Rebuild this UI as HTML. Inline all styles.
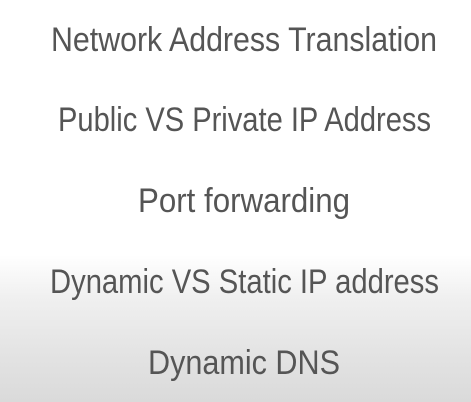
<!DOCTYPE html>
<html><head><meta charset="utf-8"><style>
html,body{margin:0;padding:0;}
body{width:471px;height:402px;overflow:hidden;background:linear-gradient(to bottom,#fff 0px,#fff 255px,#efefef 300px,#e2e2e2 360px,#dadada 402px);}
svg{display:block}
text{font-family:"Liberation Sans",sans-serif;font-size:34px;fill:#555;}
</style></head><body>
<svg width="471" height="402" xmlns="http://www.w3.org/2000/svg">
<text x="51" y="51" textLength="386" lengthAdjust="spacingAndGlyphs">Network Address Translation</text>
<text x="58" y="131" textLength="373" lengthAdjust="spacingAndGlyphs">Public VS Private IP Address</text>
<text x="138" y="212" textLength="212" lengthAdjust="spacingAndGlyphs">Port forwarding</text>
<text x="50" y="293" textLength="389" lengthAdjust="spacingAndGlyphs">Dynamic VS Static IP address</text>
<text x="148" y="374" textLength="192" lengthAdjust="spacingAndGlyphs">Dynamic DNS</text>
</svg>
</body></html>
